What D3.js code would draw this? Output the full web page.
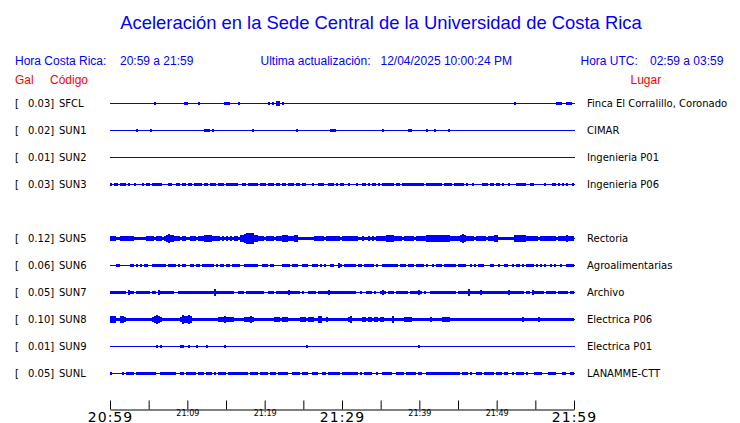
<!DOCTYPE html>
<html>
<head>
<meta charset="utf-8">
<script src="https://cdn.jsdelivr.net/npm/d3@7"></script>
<style>
  html, body { margin: 0; padding: 0; background: #ffffff; }
  svg { display: block; }
</style>
</head>
<body>
<svg id="chart" width="740" height="423"></svg>
<script>
// ---------------- DATA ----------------
const titleText = "Aceleración en la Sede Central de la Universidad de Costa Rica";
const horaCR = "20:59 a 21:59";
const horaUTC = "02:59 a 03:59";
const ultimaAct = "12/04/2025 10:00:24 PM";

// row slots (SUN4 has no trace, its slot stays empty)
const slotOrder = ["SFCL","SUN1","SUN2","SUN3","SUN4","SUN5","SUN6","SUN7","SUN8","SUN9","SUNL"];
const stationCodes = ["SFCL","SUN1","SUN2","SUN3","SUN5","SUN6","SUN7","SUN8","SUN9","SUNL"];
const peakGal = [0.03, 0.02, 0.01, 0.03, 0.12, 0.06, 0.05, 0.10, 0.01, 0.05];
const places = ["Finca El Corralillo, Coronado","CIMAR","Ingenieria P01","Ingenieria P06",
                "Rectoria","Agroalimentarias","Archivo","Electrica P06","Electrica P01","LANAMME-CTT"];

// amplitude envelopes: 232 bins over the 60 minutes, one digit per bin (relative level 0-9)
const envelopes = [
  // SFCL
  "0000000000 0000000000 0020000000 0000000220 0000200000 0000000333 0000100000 0000000002 0204402000 0000000000 0000000000 0000000000 0000000000 0000000000 0000000000 0000000000 0000000000 0000000000 0000000000 0000000000 0020000000 0000000000 0003330033 30",
  // SUN1
  "0000000000 0002000000 1000000000 0000000000 0000000333 0100000000 0000000000 0100000000 0000000000 0001000000 0000000000 3330000000 0000000000 0000002000 0000000002 2000000010 0020000001 0000000000 0000000000 0000000000 0000000000 0000000000 0000000000 00",
  // SUN2
  "0000000000 0000000000 0000000000 0000000000 0000000000 0000000000 0000000000 0000000000 0000000000 0000000000 0000000000 0000000000 0000000000 0000000000 0000000000 0000000000 0000000000 0000000000 0000000000 0000000000 0000000000 0000000000 0000000000 00",
  // SUN3
  "1022022201 0010001022 0222210001 1002202202 2022220220 2220222022 2221001102 2222022202 2202202102 2202202200 0100222002 2202022001 0001002201 0110102222 2202202222 2232222022 2222110222 2022222010 0100002220 2202201001 0002222100 1100000100 0220102010 01",
  // SUN5
  "4443344444 4423232344 4434443467 6544434433 4443444665 5444434343 4344356789 9865444344 4434446654 4455333333 3344444344 4444434444 4444334334 3434444455 6544443444 4434444455 6555556555 4444457644 4434444434 4455333333 3355565544 4444344444 4443444454 44",
  // SUN6
  "0002200000 2202020220 0222222202 2220202200 2202202222 2201022022 0222200222 2222002220 2200002222 0221002220 0222020200 2200420222 2220220222 2202002222 2222022202 2202222020 0202220222 2220222300 2020222000 2200200220 0202202022 2202020200 2020020022 22",
  // SUN7
  "1332333304 3303323233 0220433333 3300333333 3333233333 3363333333 3300333033 3333333003 3301333334 3333301003 3330333334 3323333333 3330010033 3010034303 3303333310 3333430100 3333333333 3330333336 3333343333 3333333334 3333333022 0433333033 3330333220 33",
  // SUN8
  "5552255422 2232222322 3467643232 2323247557 5322322322 2222444544 4422232444 5422232322 2344434442 2222344434 4422552242 2223222224 5232224434 4344344222 2633333444 4333333333 4333334444 3333333333 3333333333 3333333333 3333334333 3333433333 3333333333 33",
  // SUN9
  "0000000000 0000000000 0002010000 0000022002 0001000010 0000000100 0000000000 0000000000 0000000000 0000000010 0000000000 0000000000 0000000000 0000000000 0000000000 0000100000 0000000000 0000000000 0000000000 0000000000 0000000000 0000000000 0000000000 00",
  // SUNL
  "2000002022 2202222122 2220022222 2210022022 2220222022 2010222202 2222222110 2222022230 2220222210 0222202220 0222001202 2222202222 2222010222 2001002222 2002222022 2220320022 2222222222 2232202220 1002220222 3202220220 0102222010 0022220002 2220001100 22"
];

// time axis (minutes after 20:59)
const tickMinutes = [0,5,10,15,20,25,30,35,40,45,50,55,60];
const tickLabels  = ["20:59","","21:09","","21:19","","21:29","","21:39","","21:49","","21:59"];
const bigTicks    = ["20:59","21:29","21:59"];

// ---------------- DRAW ----------------
const svg = d3.select("#chart");
const blue = "#0000ff", red = "#ff0000";

const x = d3.scaleLinear().domain([0, 60]).range([110, 574]);
const yRow = d3.scalePoint().domain(slotOrder).range([103, 373]);
// envelope level -> half height in px (piecewise linear)
const amp = d3.scaleLinear().domain([0, 1, 3, 9]).range([0, 1, 1.4, 5.2]);

// title
svg.append("text").attr("x", 381).attr("y", 29).attr("text-anchor", "middle")
  .attr("font-family", "Liberation Sans, Arial, sans-serif").attr("font-size", 18.4)
  .attr("fill", blue).text(titleText);

// header line
const hdr = (tx, ty, s, col) => svg.append("text").attr("x", tx).attr("y", ty)
  .attr("font-family", "Liberation Sans, Arial, sans-serif").attr("font-size", 12)
  .attr("fill", col).text(s);
hdr(15, 65, "Hora Costa Rica:", blue);
hdr(120, 65, horaCR, blue);
hdr(260.5, 65, "Ultima actualización:", blue);
hdr(380.5, 65, ultimaAct, blue);
hdr(580.5, 65, "Hora UTC:", blue);
hdr(650, 65, horaUTC, blue);
hdr(15, 84, "Gal", red);
hdr(50, 84, "Código", red);
hdr(630.5, 84, "Lugar", red);

// traces
const nb = 232;
const rows = stationCodes.map((c, i) => ({
  code: c, gal: peakGal[i], place: places[i],
  env: envelopes[i].replace(/\s+/g, "").split("").map(ch => parseInt(ch, 36))
}));

const lbl = (tx, ty, s) => svg.append("text").attr("x", tx).attr("y", ty)
  .attr("font-family", "DejaVu Sans, sans-serif").attr("font-size", 10).attr("fill", "#000").text(s);

const g = svg.append("g");
rows.forEach(r => {
  const cy = yRow(r.code);
  const pts = r.env.map((v, i) => ({ t: i * 60 / nb, v }));
  pts.push({ t: 60, v: r.env[r.env.length - 1] });
  const area = d3.area()
    .x(d => Math.round(x(d.t)))
    .y0(d => cy - Math.round(amp(d.v)))
    .y1(d => cy + 1 + Math.round(amp(d.v)))
    .curve(d3.curveStepAfter);
  g.append("path").attr("d", area(pts)).attr("fill", blue).attr("stroke", "none")
    .attr("shape-rendering", "crispEdges");
  g.append("line").attr("x1", x(0)).attr("x2", x(60) + 1).attr("y1", cy + 0.5).attr("y2", cy + 0.5)
    .attr("stroke", blue).attr("stroke-width", 1).attr("shape-rendering", "crispEdges");

  lbl(15, cy + 4, "[");
  lbl(28, cy + 4, r.gal.toFixed(2) + "]");
  lbl(59, cy + 4, r.code);
  lbl(587, cy + 4, r.place);
});

// axis
const axis = d3.axisBottom(x).tickValues(tickMinutes)
  .tickSizeInner(-9).tickSizeOuter(0)
  .tickFormat((d, i) => tickLabels[i]);
const ax = svg.append("g").attr("transform", "translate(0,409.5)").call(axis);
ax.select(".domain").attr("stroke", "#000");
ax.selectAll(".tick line").attr("stroke", "#000");
ax.selectAll(".tick text")
  .attr("font-family", "DejaVu Sans, sans-serif")
  .attr("fill", "#000")
  .attr("dy", null)
  .attr("font-size", function() { return bigTicks.includes(this.textContent) ? 14 : 8; })
  .attr("y", function() { return bigTicks.includes(this.textContent) ? 12 : 6; })
  .attr("letter-spacing", function() { return bigTicks.includes(this.textContent) ? 1 : 0; });
</script>
</body>
</html>
